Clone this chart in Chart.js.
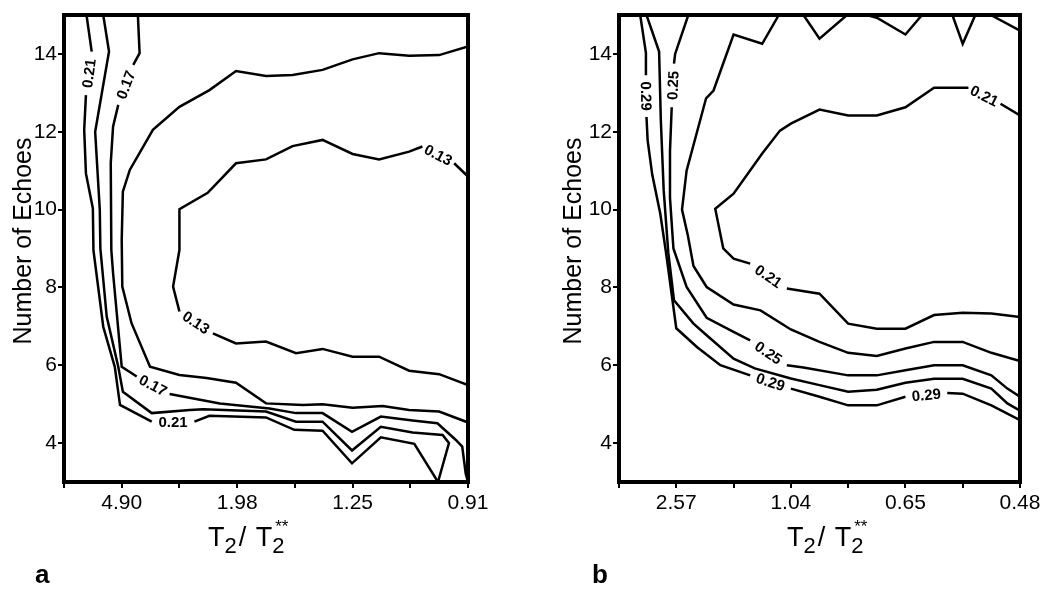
<!DOCTYPE html>
<html>
<head>
<meta charset="utf-8">
<script src="https://cdn.jsdelivr.net/npm/chart.js@4.4.1/dist/chart.umd.min.js"></script>
<style>
  html, body { margin: 0; padding: 0; background: #fff; }
  body { width: 1050px; height: 593px; position: relative; overflow: hidden; }
  .panel { position: absolute; top: 0; width: 525px; height: 593px; }
  #panelA { left: 0; }
  #panelB { left: 525px; }
</style>
</head>
<body>
<div class="panel" id="panelA"><canvas id="chartA" width="525" height="593"></canvas></div>
<div class="panel" id="panelB"><canvas id="chartB" width="525" height="593"></canvas></div>
<script>
// x = position along the T2/T2** axis (tick index 0..7), y = number of echoes
const xTicks = [0, 1, 2, 3, 4, 5, 6, 7];
const yTicks = [4, 6, 8, 10, 12, 14];
const xLabelsA = ["", "4.90", "", "1.98", "", "1.25", "", "0.91"];
const xLabelsB = ["", "2.57", "", "1.04", "", "0.65", "", "0.48"];

// panel a contours
const a021 = [[0.39,15],[0.48,14.06],[0.38,12.94],[0.35,12.05],[0.38,10.93],[0.50,10.03],[0.51,8.96],[0.68,6.99],[0.88,5.96],[0.97,4.98],[1.52,4.55],[2.26,4.55],[2.52,4.70],[3.50,4.66],[3.99,4.34],[4.48,4.32],[4.99,3.48],[5.49,4.15],[6.07,3.98],[6.48,3.0]];
const a019 = [[0.68,15],[0.78,14.06],[0.54,12.0],[0.62,10.0],[0.63,9.0],[0.74,7.25],[0.94,5.96],[1.02,5.32],[1.52,4.77],[2.18,4.85],[2.41,4.87],[3.50,4.81],[4.02,4.55],[4.48,4.55],[4.99,3.81],[5.49,4.42],[6.04,4.27],[6.56,4.21],[6.67,4.00],[6.48,3.0]];
const a017 = [[1.28,15],[1.31,14.02],[1.20,13.72],[0.94,12.69],[0.85,12.13],[0.81,11.19],[0.82,8.96],[0.85,8.37],[1.00,5.96],[1.26,5.71],[1.83,5.26],[2.70,5.02],[3.56,4.89],[4.02,4.77],[4.48,4.77],[4.99,4.29],[5.49,4.68],[6.04,4.58],[6.47,4.51],[6.79,4.08],[6.90,3.91],[6.96,3.22],[7.0,3.0]];
const a015 = [[7.0,14.19],[6.50,13.97],[5.98,13.95],[5.46,14.02],[5.00,13.86],[4.48,13.59],[3.96,13.46],[3.50,13.43],[2.98,13.56],[2.52,13.07],[2.00,12.64],[1.54,12.05],[1.14,11.02],[1.02,10.46],[1.00,9.22],[1.01,8.02],[1.17,7.08],[1.49,5.96],[2.00,5.75],[2.47,5.67],[2.98,5.55],[3.50,5.02],[4.14,4.98],[4.48,5.00],[5.00,4.91],[5.52,4.95],[5.98,4.85],[6.50,4.81],[7.0,4.53]];
const a013 = [[7.0,10.85],[6.76,11.19],[6.21,11.62],[5.98,11.49],[5.46,11.29],[5.00,11.43],[4.48,11.79],[3.96,11.63],[3.50,11.29],[2.98,11.19],[2.49,10.43],[2.00,10.01],[2.00,8.96],[1.89,8.02],[2.00,7.38],[2.58,6.82],[2.98,6.56],[3.50,6.61],[4.02,6.31],[4.48,6.42],[5.00,6.22],[5.46,6.22],[5.98,5.86],[6.50,5.77],[7.0,5.49]];
const aLines = [a021, a019, a017, a015, a013];
const aLevels = ["0.21", "", "0.17", "", "0.13"];
const aGaps = [[1, 10], [], [2, 9], [], [1, 14]];   // segments broken for the labels

// panel b contours
const b029 = [[0.37,15],[0.47,14.03],[0.47,13.45],[0.48,12.38],[0.50,11.78],[0.58,10.9],[0.72,9.9],[0.82,8.9],[1.0,6.95],[1.36,6.47],[1.77,6.0],[2.29,5.74],[3.0,5.40],[3.5,5.19],[4.0,4.97],[4.5,4.97],[5.0,5.19],[5.73,5.29],[6.0,5.27],[6.5,4.97],[7.0,4.59]];
const b027 = [[0.48,15],[0.70,14.06],[0.73,12.3],[0.78,10.5],[0.86,8.9],[0.96,7.67],[1.30,7.07],[1.53,6.77],[2.0,6.17],[2.37,5.92],[3.0,5.66],[3.5,5.49],[4.0,5.32],[4.5,5.37],[5.0,5.55],[5.5,5.65],[6.0,5.65],[6.5,5.40],[6.78,5.02],[7.0,4.83]];
const b025 = [[1.21,15],[0.98,14.0],[0.96,13.75],[0.92,12.63],[0.89,11.5],[0.89,10.3],[0.95,9.0],[1.18,8.01],[1.53,7.22],[2.0,6.86],[2.29,6.64],[2.93,6.0],[3.22,5.94],[4.0,5.74],[4.5,5.74],[5.0,5.87],[5.5,6.0],[6.0,6.0],[6.5,5.74],[6.78,5.40],[7.0,5.19]];
const b023 = [[7.0,14.6],[6.49,15],[6.22,15],[6.0,14.26],[5.82,15],[5.29,15],[5.0,14.5],[4.5,14.93],[4.33,15],[3.98,15],[3.5,14.39],[3.22,15],[2.79,15],[2.5,14.26],[2.0,14.5],[1.65,13.06],[1.52,12.86],[1.18,11.0],[1.10,10.0],[1.2,9.35],[1.3,8.55],[1.53,8.01],[2.0,7.56],[2.47,7.41],[3.0,6.92],[3.5,6.60],[4.0,6.32],[4.5,6.24],[5.0,6.43],[5.5,6.60],[6.0,6.60],[6.5,6.32],[7.0,6.11]];
const b021 = [[7.0,12.42],[6.66,12.72],[6.1,13.13],[5.5,13.13],[5.0,12.63],[4.5,12.42],[4.0,12.42],[3.5,12.57],[3.0,12.21],[2.81,12.03],[2.5,11.44],[2.0,10.41],[1.68,10.02],[1.82,9.0],[2.0,8.74],[2.29,8.61],[2.93,7.97],[3.5,7.84],[4.0,7.07],[4.5,6.94],[5.0,6.94],[5.5,7.29],[6.0,7.35],[6.5,7.33],[7.0,7.24]];
const bLines = [b029, b027, b025, b023, b021];
const bLevels = ["0.29", "", "0.25", "", "0.21"];
const bGaps = [[2, 11, 16], [], [2, 10], [], [1, 15]];

const FONT = '"Liberation Sans", Arial, Helvetica, sans-serif';
Chart.defaults.font.family = FONT;
Chart.defaults.color = '#000';

// thick box round the plot
const frame = {
    id: 'frame',
    afterDatasetsDraw(chart) {
        const { ctx, chartArea: a } = chart;
        ctx.save();
        ctx.strokeStyle = '#000';
        ctx.lineWidth = 4;
        ctx.strokeRect(a.left, a.top, a.right - a.left, a.bottom - a.top);
        ctx.restore();
    }
};

// contour level text, put into the gap of its segment
const contourLabels = {
    id: 'contourLabels',
    afterDatasetsDraw(chart, args, opts) {
        const ctx = chart.ctx;
        ctx.save();
        ctx.font = 'bold 15px ' + FONT;
        ctx.fillStyle = '#000';
        ctx.textAlign = 'center';
        ctx.textBaseline = 'middle';
        opts.gaps.forEach((segs, i) => {
            const pts = chart.getDatasetMeta(i).data;
            segs.forEach(s => {
                const p0 = pts[s], p1 = pts[s + 1];
                let ang = Math.atan2(p1.y - p0.y, p1.x - p0.x);
                if (Math.cos(ang) < -1e-6) ang += Math.PI;
                ctx.save();
                ctx.translate((p0.x + p1.x) / 2, (p0.y + p1.y) / 2);
                ctx.rotate(ang);
                ctx.fillText(opts.levels[i], 0, 1);
                ctx.restore();
            });
        });
        ctx.restore();
    }
};

// axis titles and the panel letter
const panelText = {
    id: 'panelText',
    afterDraw(chart, args, o) {
        const { ctx, chartArea: a } = chart;
        ctx.save();
        ctx.fillStyle = '#000';
        ctx.textBaseline = 'alphabetic';

        ctx.save();
        ctx.font = '25px ' + FONT;
        ctx.textAlign = 'center';
        ctx.translate(o.yTitleX, 241);
        ctx.rotate(-Math.PI / 2);
        ctx.fillText('Number of Echoes', 0, 0);
        ctx.restore();

        // T2 / T2** with sub- and superscripts
        const main = '27px ' + FONT, sub = '22px ' + FONT, sup = '17px ' + FONT;
        const parts = [['T', main, 0, 0], ['2', sub, 7, 2], ['/', main, 0, 0], [' ', main, 0, 2], ['T', main, 0, 0], ['2', sub, 7, 0]];
        let x = a.left + o.xTitleStart;
        const base = 546;
        ctx.textAlign = 'left';
        let lastSub = x;
        parts.forEach(([t, f, dy, extra]) => {
            ctx.font = f;
            if (f === sub) lastSub = x;
            ctx.fillText(t, x, base + dy);
            x += ctx.measureText(t).width + extra;
        });
        ctx.font = sup;
        ctx.fillText('**', lastSub + 3, base - 14);

        ctx.font = 'bold 26px ' + FONT;
        ctx.fillText(o.letter, o.letterX, 583);
        ctx.restore();
    }
};

function makeChart(id, lines, levels, gaps, xLabels, pad, text) {
    const datasets = lines.map((pts, i) => ({
        data: pts.map(([x, y]) => ({ x, y })),
        borderColor: '#000',
        borderWidth: 2.5,
        pointRadius: 0,
        tension: 0,
        fill: false,
        segment: {
            borderColor: c => gaps[i].includes(c.p0DataIndex) ? 'rgba(0,0,0,0)' : undefined
        }
    }));

    return new Chart(document.getElementById(id), {
        type: 'line',
        data: { datasets },
        plugins: [frame, contourLabels, panelText],
        options: {
            responsive: false,
            animation: false,
            devicePixelRatio: 1,
            layout: { padding: { left: 0, right: pad.right, top: 15, bottom: 0 } },
            plugins: {
                legend: { display: false },
                tooltip: { enabled: false },
                contourLabels: { levels, gaps },
                panelText: text
            },
            scales: {
                x: {
                    type: 'linear',
                    min: 0,
                    max: 7,
                    afterBuildTicks: s => { s.ticks = xTicks.map(v => ({ value: v })); },
                    afterFit: s => { s.height = 111; },
                    grid: { display: true, drawOnChartArea: false, drawTicks: true, tickLength: 6, color: '#000', lineWidth: 2 },
                    border: { display: false },
                    ticks: {
                        autoSkip: false,
                        maxRotation: 0,
                        padding: 3,
                        font: { size: 21 },
                        color: '#000',
                        callback: (v, i) => xLabels[i]
                    }
                },
                y: {
                    type: 'linear',
                    min: 3,
                    max: 15,
                    afterBuildTicks: s => { s.ticks = yTicks.map(v => ({ value: v })); },
                    afterFit: s => { s.width = pad.left; },
                    grid: { display: true, drawOnChartArea: false, drawTicks: true, tickLength: 6, color: '#000', lineWidth: 2 },
                    border: { display: false },
                    ticks: { padding: 1, font: { size: 21 }, color: '#000' }
                }
            }
        }
    });
}

makeChart('chartA', aLines, aLevels, aGaps, xLabelsA, { left: 64, right: 57 },
    { yTitleX: 31, xTitleStart: 144, letter: 'a', letterX: 35 });
makeChart('chartB', bLines, bLevels, bGaps, xLabelsB, { left: 94, right: 30 },
    { yTitleX: 56, xTitleStart: 168, letter: 'b', letterX: 67 });
</script>
</body>
</html>
